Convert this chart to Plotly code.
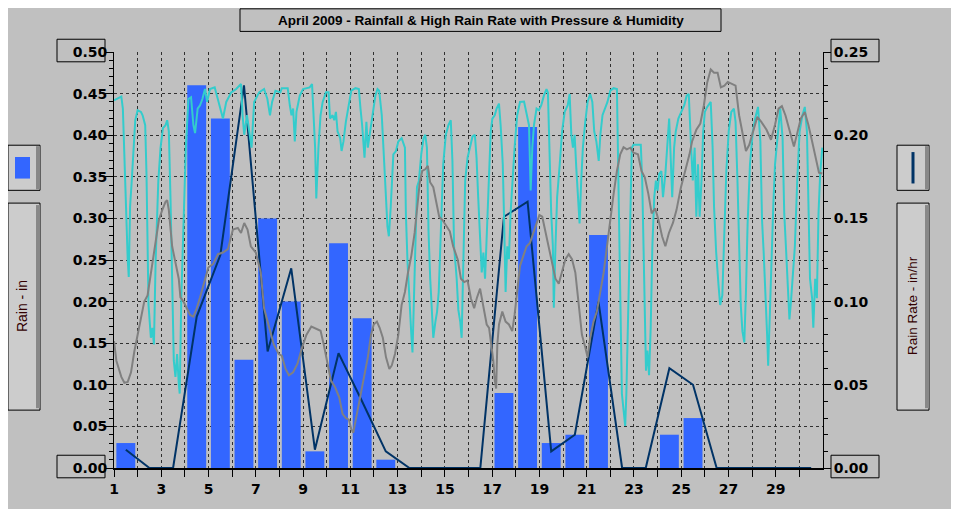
import plotly.graph_objects as go

# daily values, April 2009
days = list(range(1, 31))
rain_in = [0.03, 0, 0, 0.46, 0.42, 0.13, 0.30, 0.20, 0.02, 0.27,
           0.18, 0.01, 0, 0, 0, 0, 0.09, 0.41, 0.03, 0.04,
           0.28, 0, 0, 0.04, 0.06, 0, 0, 0, 0, 0]
rain_rate = [0.011, 0, 0, 0.091, 0.128, 0.230, 0.070, 0.120, 0.011, 0.069,
             0.040, 0.010, 0, 0, 0, 0, 0.151, 0.160, 0.010, 0.020,
             0.100, 0, 0, 0.060, 0.050, 0, 0, 0, 0, 0]
tick_text = [str(d) if d % 2 == 1 else "" for d in days]

# humidity (%), time in days
hum_day = [1.00, 1.31, 1.375, 1.44, 1.58, 1.625, 1.68, 1.75, 1.82, 1.90, 2.00, 2.14, 2.21, 2.32, 2.375, 2.46, 2.56, 2.625, 2.69, 2.76,
           2.875, 2.97, 3.07, 3.18, 3.25, 3.32, 3.39, 3.46, 3.53, 3.60, 3.67, 3.74, 3.78, 3.85, 3.94, 4.04, 4.15, 4.26, 4.36, 4.43,
           4.54, 4.64, 4.74, 4.85, 4.94, 5.06, 5.26, 5.40, 5.61, 5.75, 5.96, 6.17, 6.375, 6.44, 6.51, 6.625, 6.72, 6.82, 6.93, 7.14,
           7.35, 7.49, 7.60, 7.69, 7.83, 8.04, 8.10, 8.35, 8.44, 8.51, 8.58, 8.65, 8.72, 8.86, 9.00, 9.28, 9.38, 9.44, 9.51, 9.56,
           9.60, 9.65, 9.74, 9.83, 9.97, 10.08, 10.14, 10.25, 10.32, 10.39, 10.46, 10.57, 10.63, 10.71, 10.81, 10.94, 11.04, 11.22, 11.36, 11.43,
           11.50, 11.60, 11.68, 11.74, 11.82, 11.92, 12.06, 12.15, 12.22, 12.33, 12.43, 12.51, 12.57, 12.63, 12.71, 12.82, 12.93, 13.03, 13.17, 13.31,
           13.35, 13.42, 13.51, 13.58, 13.63, 13.69, 13.76, 13.82, 13.90, 14.00, 14.10, 14.17, 14.24, 14.31, 14.38, 14.46, 14.51, 14.60, 14.67, 14.74,
           14.83, 14.93, 15.04, 15.15, 15.25, 15.32, 15.39, 15.50, 15.57, 15.65, 15.71, 15.79, 15.86, 15.96, 16.07, 16.17, 16.27, 16.34, 16.41, 16.49,
           16.56, 16.63, 16.70, 16.76, 16.84, 16.94, 17.01, 17.11, 17.19, 17.29, 17.36, 17.45, 17.50, 17.57, 17.64, 17.71, 17.78, 17.85, 17.95, 18.06,
           18.18, 18.35, 18.46, 18.56, 18.63, 18.70, 18.77, 18.88, 18.98, 19.08, 19.19, 19.30, 19.36, 19.43, 19.50, 19.57, 19.61, 19.68, 19.75, 19.86,
           19.96, 20.07, 20.20, 20.28, 20.35, 20.42, 20.49, 20.56, 20.63, 20.70, 20.77, 20.84, 20.94, 21.04, 21.15, 21.24, 21.32, 21.41, 21.51, 21.58,
           21.67, 21.79, 21.88, 22.00, 22.14, 22.28, 22.35, 22.42, 22.49, 22.56, 22.63, 22.68, 22.73, 22.82, 22.91, 22.98, 23.03, 23.29, 23.35, 23.41,
           23.46, 23.51, 23.57, 23.64, 23.71, 23.78, 23.86, 23.93, 24.00, 24.07, 24.16, 24.23, 24.33, 24.43, 24.49, 24.55, 24.62, 24.70, 24.77, 24.88,
           25.01, 25.13, 25.23, 25.32, 25.42, 25.49, 25.57, 25.64, 25.71, 25.78, 25.86, 25.93, 26.00, 26.10, 26.25, 26.33, 26.39, 26.48, 26.58, 26.65,
           26.74, 26.83, 26.91, 27.01, 27.12, 27.23, 27.30, 27.38, 27.45, 27.52, 27.59, 27.67, 27.74, 27.81, 27.91, 28.03, 28.13, 28.25, 28.35, 28.42,
           28.49, 28.58, 28.64, 28.68, 28.75, 28.83, 28.90, 28.97, 29.09, 29.19, 29.29, 29.36, 29.43, 29.51, 29.58, 29.65, 29.72, 29.81, 29.91, 30.01,
           30.13, 30.23, 30.32, 30.39, 30.45, 30.54, 30.59, 30.67, 30.74, 30.81, 30.88, 30.97]
hum_pct = [88.4, 89.3, 86.4, 73.8, 50.2, 45.9, 62.8, 69.0, 77.0, 83.6, 86.0, 85.6, 84.8, 82.4, 70.6, 39.2, 31.3, 33.7, 29.7, 49.4,
           69.0, 77.0, 81.7, 82.4, 83.6, 80.9, 65.1, 45.5, 25.8, 21.9, 27.4, 20.3, 17.9, 41.5, 59.6, 77.0, 88.7, 89.1, 82.4, 80.5,
           86.4, 87.2, 88.7, 91.1, 88.0, 91.1, 91.5, 88.7, 84.0, 88.0, 90.3, 91.1, 92.3, 84.8, 80.1, 84.8, 80.9, 77.0, 88.0, 90.3,
           91.1, 88.7, 84.8, 88.0, 90.7, 90.3, 91.3, 91.3, 87.2, 84.8, 86.4, 78.5, 85.6, 89.5, 91.1, 91.5, 92.3, 84.8, 77.0, 64.8,
           70.7, 77.0, 84.8, 88.0, 90.3, 90.3, 84.0, 84.8, 83.6, 85.6, 80.9, 79.3, 76.2, 78.5, 83.2, 87.2, 90.7, 91.3, 91.1, 86.4,
           82.4, 74.6, 83.2, 77.0, 80.1, 83.2, 89.5, 91.1, 90.7, 84.8, 73.0, 65.1, 58.1, 55.7, 62.8, 75.4, 76.2, 78.5, 79.3, 77.0,
           61.2, 49.4, 38.4, 32.1, 27.8, 39.2, 56.5, 67.5, 69.0, 75.4, 79.3, 80.1, 77.0, 56.5, 45.5, 37.6, 31.3, 35.2, 37.6, 42.3,
           57.3, 73.0, 80.1, 82.4, 83.6, 73.8, 53.3, 45.5, 38.0, 35.2, 31.3, 53.3, 69.1, 74.6, 77.7, 79.7, 80.1, 74.6, 65.1, 53.3,
           47.0, 51.8, 45.5, 54.1, 67.5, 80.9, 84.0, 84.8, 86.4, 87.6, 82.4, 73.0, 61.2, 42.3, 53.3, 50.2, 61.2, 69.1, 77.0, 84.8,
           88.0, 88.1, 84.8, 82.4, 66.7, 77.0, 82.4, 86.4, 86.0, 87.2, 89.5, 91.1, 90.3, 73.0, 61.2, 53.3, 38.5, 53.3, 65.1, 73.0,
           80.9, 85.6, 87.2, 89.9, 80.1, 77.0, 80.1, 72.2, 65.9, 58.8, 69.1, 77.0, 83.2, 88.0, 89.9, 88.0, 80.9, 78.5, 73.8, 80.1,
           84.8, 86.4, 88.0, 90.7, 91.3, 91.1, 69.1, 37.6, 17.9, 14.0, 10.1, 17.9, 33.7, 53.3, 77.0, 77.7, 77.7, 77.7, 69.1, 49.4,
           29.7, 23.4, 28.2, 22.3, 33.7, 53.3, 65.1, 69.1, 66.7, 70.7, 71.4, 65.1, 70.7, 77.7, 84.0, 75.4, 65.1, 77.0, 80.9, 84.0,
           85.6, 87.2, 89.5, 89.9, 77.0, 69.1, 77.0, 60.4, 73.0, 60.4, 69.1, 80.9, 85.6, 86.8, 88.0, 77.0, 62.8, 51.8, 43.9, 39.2,
           41.5, 54.9, 71.4, 80.9, 85.6, 86.4, 83.2, 69.1, 53.3, 39.2, 32.9, 30.2, 42.3, 58.8, 73.0, 80.9, 84.0, 86.8, 78.5, 59.6,
           51.8, 41.5, 31.3, 24.6, 37.6, 53.3, 63.6, 73.0, 80.9, 86.4, 79.3, 61.2, 53.3, 45.5, 35.7, 40.4, 47.0, 53.3, 69.1, 80.9,
           84.8, 86.8, 80.9, 61.2, 45.5, 40.8, 33.7, 45.5, 40.8, 61.2, 70.7, 77.0]

# barometric pressure (inHg)
pres_day = [1.00, 1.10, 1.31, 1.44, 1.58, 1.72, 1.86, 2.07, 2.28, 2.42, 2.56, 2.69, 2.90, 3.04, 3.18, 3.25, 3.32, 3.46, 3.60, 3.74,
            3.81, 3.94, 4.08, 4.22, 4.36, 4.50, 4.64, 4.85, 4.99, 5.19, 5.40, 5.61, 5.82, 6.03, 6.24, 6.375, 6.51, 6.65, 6.79, 7.00,
            7.21, 7.35, 7.56, 7.76, 7.97, 8.10, 8.26, 8.40, 8.58, 8.76, 8.96, 9.14, 9.35, 9.49, 9.63, 9.74, 9.875, 10.04, 10.18, 10.35,
            10.53, 10.67, 10.81, 10.94, 11.04, 11.125, 11.26, 11.40, 11.57, 11.74, 11.875, 11.99, 12.125, 12.24, 12.375, 12.51, 12.65, 12.75, 12.89, 13.03,
            13.17, 13.31, 13.44, 13.58, 13.72, 13.82, 13.93, 14.04, 14.17, 14.28, 14.375, 14.51, 14.65, 14.76, 14.90, 15.07, 15.21, 15.35, 15.54, 15.68,
            15.82, 15.96, 16.10, 16.24, 16.35, 16.49, 16.63, 16.77, 16.87, 16.97, 17.05, 17.11, 17.17, 17.22, 17.29, 17.43, 17.57, 17.71, 17.85, 17.95,
            18.06, 18.18, 18.32, 18.46, 18.60, 18.74, 18.88, 19.00, 19.12, 19.26, 19.40, 19.54, 19.68, 19.82, 19.96, 20.10, 20.24, 20.38, 20.52, 20.66,
            20.80, 20.94, 21.04, 21.15, 21.29, 21.43, 21.58, 21.72, 21.86, 22.00, 22.14, 22.28, 22.42, 22.56, 22.70, 22.85, 22.98, 23.17, 23.32, 23.46,
            23.61, 23.75, 23.90, 24.04, 24.19, 24.33, 24.48, 24.65, 24.80, 24.99, 25.17, 25.35, 25.46, 25.64, 25.81, 25.96, 26.10, 26.25, 26.39, 26.54,
            26.68, 26.83, 26.97, 27.16, 27.30, 27.45, 27.59, 27.74, 27.88, 28.03, 28.22, 28.39, 28.61, 28.80, 28.97, 29.12, 29.26, 29.41, 29.58, 29.77,
            29.91, 30.06, 30.23, 30.38, 30.54, 30.68, 30.83, 30.97]
pres_inhg = [29.705, 29.658, 29.619, 29.605, 29.607, 29.630, 29.680, 29.745, 29.800, 29.815, 29.870, 29.910, 29.996, 30.020, 30.040, 30.044, 30.020, 29.933, 29.894, 29.855,
             29.810, 29.800, 29.784, 29.768, 29.764, 29.784, 29.810, 29.855, 29.882, 29.890, 29.914, 29.918, 29.926, 29.973, 29.977, 29.965, 29.989, 29.973, 29.933, 29.918,
             29.870, 29.784, 29.737, 29.697, 29.674, 29.670, 29.638, 29.623, 29.630, 29.650, 29.690, 29.720, 29.740, 29.737, 29.733, 29.730, 29.697, 29.650, 29.610, 29.595,
             29.570, 29.530, 29.520, 29.516, 29.493, 29.485, 29.524, 29.570, 29.620, 29.666, 29.720, 29.745, 29.752, 29.737, 29.713, 29.666, 29.638, 29.646, 29.674, 29.720,
             29.792, 29.823, 29.870, 29.910, 29.965, 30.028, 30.083, 30.114, 30.118, 30.126, 30.087, 30.075, 30.036, 30.004, 29.996, 29.980, 29.969, 29.933, 29.902, 29.855,
             29.847, 29.851, 29.808, 29.784, 29.808, 29.831, 29.792, 29.745, 29.737, 29.697, 29.658, 29.611, 29.591, 29.697, 29.745, 29.776, 29.752, 29.745, 29.729, 29.768,
             29.823, 29.886, 29.910, 29.933, 29.941, 29.965, 29.989, 30.008, 30.004, 29.965, 29.926, 29.886, 29.855, 29.843, 29.870, 29.902, 29.914, 29.902, 29.870, 29.792,
             29.720, 29.690, 29.666, 29.713, 29.752, 29.776, 29.823, 29.870, 29.933, 30.004, 30.059, 30.114, 30.154, 30.171, 30.166, 30.170, 30.158, 30.154, 30.114, 30.099,
             30.059, 30.012, 30.024, 29.996, 29.957, 29.933, 29.965, 29.989, 30.020, 30.075, 30.114, 30.154, 30.185, 30.213, 30.228, 30.272, 30.327, 30.358, 30.350, 30.350,
             30.315, 30.319, 30.328, 30.323, 30.319, 30.248, 30.209, 30.162, 30.177, 30.209, 30.244, 30.232, 30.213, 30.189, 30.225, 30.264, 30.270, 30.248, 30.213, 30.173,
             30.205, 30.240, 30.256, 30.225, 30.185, 30.146, 30.110, 30.108]

# the page puts the plot 8px in from the top-left corner, so work in page pixels
OFF = 8
W, H = 959 - OFF, 509 - OFF
ML, MR, MT, MB = 114 - OFF, 136, 52 - OFF, 33
PW, PH = W - ML - MR, H - MT - MB


def px(x):
    return (x - OFF - ML) / PW


def py(y):
    return (H - MB - (y - OFF)) / PH


mid = [d + 0.5 for d in days]
tickfont = dict(family="DejaVu Sans", size=14, color="black", weight="bold")

fig = go.Figure()
fig.add_trace(go.Bar(x=mid, y=rain_in, width=0.8, marker=dict(color="#3366ff", line_width=0),
                     name="Rain"))
fig.add_trace(go.Scatter(x=hum_day, y=hum_pct, yaxis="y3", mode="lines",
                         line=dict(color="#33cccc", width=2), name="Humidity"))
fig.add_trace(go.Scatter(x=pres_day, y=pres_inhg, yaxis="y4", mode="lines",
                         line=dict(color="#808080", width=2), name="Pressure"))
fig.add_trace(go.Scatter(x=mid, y=rain_rate, yaxis="y2", mode="lines",
                         line=dict(color="#003366", width=2), name="Rain Rate"))

grid = dict(showgrid=True, gridcolor="#303030", gridwidth=1, griddash="3px,3px")

fig.update_layout(
    width=W, height=H,
    margin=dict(l=ML, r=MR, t=MT, b=MB),
    paper_bgcolor="#c0c0c0", plot_bgcolor="#c0c0c0",
    showlegend=False,
    xaxis=dict(range=[1, 31], tickvals=days, ticktext=tick_text, ticks="outside",
               ticklen=7, tickcolor="black", showline=True, linecolor="black",
               linewidth=2, zeroline=False, tickfont=tickfont, **grid),
    yaxis=dict(range=[0, 0.5], dtick=0.05, tickformat=".2f", ticks="outside",
               ticklen=8, tickcolor="black", showline=True, linecolor="black",
               zeroline=False, tickfont=tickfont, ticklabelstandoff=-5,
               minor=dict(dtick=0.01, ticks="outside", ticklen=4, tickcolor="black",
                          showgrid=False), **grid),
    yaxis2=dict(range=[0, 0.25], dtick=0.05, tickformat=".2f", overlaying="y",
                side="right", ticks="outside", ticklen=7, tickcolor="black",
                showline=True, linecolor="black", showgrid=False, zeroline=False,
                tickfont=tickfont,
                minor=dict(dtick=0.01, ticks="outside", ticklen=4, tickcolor="black")),
    yaxis3=dict(range=[0, 100], overlaying="y", visible=False),
    yaxis4=dict(range=[29.4, 30.4], overlaying="y", visible=False),
)

shapes = []


def box(x0, y0, x1, y1, fill=None, width=1):
    shapes.append(dict(type="rect", xref="paper", yref="paper",
                       x0=px(x0), x1=px(x1), y0=py(y0), y1=py(y1),
                       line=dict(color="black", width=width),
                       fillcolor=fill if fill else "rgba(0,0,0,0)", layer="above"))


def fillrect(x0, y0, x1, y1, fill):
    shapes.append(dict(type="rect", xref="paper", yref="paper",
                       x0=px(x0), x1=px(x1), y0=py(y0), y1=py(y1),
                       line=dict(width=0), fillcolor=fill, layer="above"))


# title and tick label boxes
box(240, 8, 721, 31)
box(57, 39, 105, 62)
box(57, 463, 105, 486)
box(831, 39, 879, 62)
box(831, 463, 879, 486)

# legend panels
for x0 in (8, 897):
    box(x0, 147, x0 + 32, 193, "#cccccc")
    fillrect(x0 + 28, 148, x0 + 32, 192, "#888888")
    box(x0, 206, x0 + 32, 417, "#cccccc")
    fillrect(x0 + 28, 208, x0 + 32, 415, "#888888")
fillrect(15, 159, 30, 181, "#3366ff")
shapes.append(dict(type="line", xref="paper", yref="paper", x0=px(913), x1=px(913),
                   y0=py(154), y1=py(186), line=dict(color="#003366", width=3)))
fig.update_layout(shapes=shapes)

label = dict(xref="paper", yref="paper", showarrow=False, xanchor="center", yanchor="middle")
fig.add_annotation(x=px(480.5), y=py(19.5), **label,
                   text="<b>April 2009 - Rainfall & High Rain Rate with Pressure & Humidity</b>",
                   font=dict(family="Liberation Sans", size=13.5, color="black"))
fig.add_annotation(x=px(22), y=py(311), **label, text="Rain - in", textangle=-90,
                   font=dict(family="Liberation Sans", size=14, color="#330000"))
fig.add_annotation(x=px(912), y=py(311), **label, text="Rain Rate - in/hr", textangle=-90,
                   font=dict(family="Liberation Sans", size=13.5, color="#330000"))

fig.write_html("out.html")
